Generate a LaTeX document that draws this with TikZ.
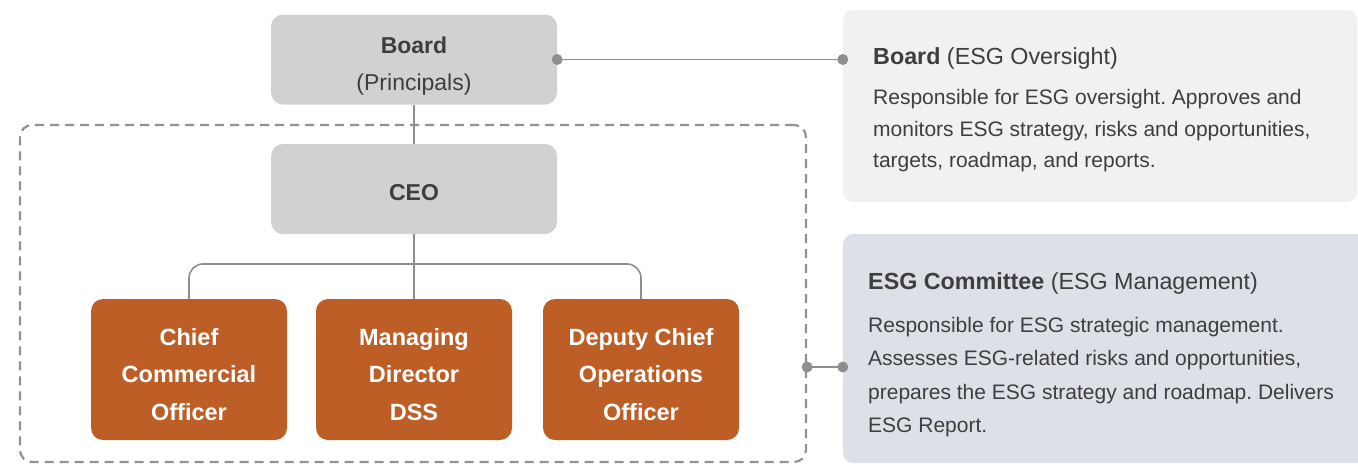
\documentclass[tikz,border=0pt]{standalone}
\usepackage{fontspec}
\setmainfont{Liberation Sans}
\definecolor{boxgray}{HTML}{D0D1D1}
\definecolor{ink}{HTML}{3E3E3E}
\definecolor{rust}{HTML}{BE5E27}
\definecolor{paneA}{HTML}{F1F1F1}
\definecolor{paneB}{HTML}{DDE0E6}
\definecolor{wire}{HTML}{8E8E8E}
\definecolor{dashgray}{HTML}{929292}
\begin{document}
\frenchspacing
\begin{tikzpicture}[x=1pt,y=-1pt,
  graybox/.style={fill=boxgray, rounded corners=12pt, minimum width=286pt,
    minimum height=90pt, inner sep=0pt},
  graytext/.style={inner sep=0pt, text=ink, align=center,
    font=\fontsize{23}{37}\selectfont},
  rolebox/.style={fill=rust, rounded corners=12pt, minimum width=196pt,
    minimum height=141pt, inner sep=0pt},
  roletext/.style={inner sep=0pt, text=white, align=center,
    font=\fontsize{23.5}{37.5}\selectfont\bfseries},
  pane/.style={rounded corners=10pt, inner sep=0pt},
  grouping/.style={draw=dashgray, line width=2.2pt, dash pattern=on 9pt off 6pt,
    rounded corners=12pt, minimum width=786pt, minimum height=337pt, inner sep=0pt},
  wireline/.style={draw=wire, line width=1.6pt},
  paneltitle/.style={anchor=west, inner sep=0pt, text=ink, font=\fontsize{23.3}{28}\selectfont},
  panelbody/.style={anchor=north west, inner sep=0pt, text=ink, align=left},
  knob/.style={fill=wire}
]
\useasboundingbox (0,0) rectangle (1358,464);

% right-hand description panels
\node[pane, fill=paneA, minimum width=514pt, minimum height=192pt] (p1) at (1100,106) {};
\node[pane, fill=paneB, minimum width=530pt, minimum height=229pt] (p2) at (1108,348.5) {};

\node[paneltitle] (p1title) at (873,58) {\textbf{Board} (ESG Oversight)};
\node[panelbody, font=\fontsize{21}{31.5}\selectfont] (p1body) at (873,89.5)
  {Responsible for ESG oversight. Approves and\\
   monitors ESG strategy, risks and opportunities,\\
   targets, roadmap, and reports.};

\node[paneltitle] (p2title) at (868,283) {\textbf{ESG Committee} (ESG Management)};
\node[panelbody, font=\fontsize{21}{33.3}\selectfont] (p2body) at (868,317)
  {Responsible for ESG strategic management.\\
   Assesses ESG-related risks and opportunities,\\
   prepares the ESG strategy and roadmap. Delivers\\
   ESG Report.};

% management group
\node[grouping] (grp) at (413,293.5) {};

% organisation chart
\node[graybox] (board) at (414,59.5) {};
\node[graytext] (board-text) at ([yshift=-7pt]board.center) {\textbf{Board}\\(Principals)};
\node[graybox] (ceo) at (414,189) {};
\node[graytext, font=\fontsize{23}{37}\selectfont\bfseries] (ceo-text) at ([yshift=-4pt]ceo.center) {CEO};

\node[rolebox] (cco) at (189,369.5) {};
\node[rolebox] (mdd) at (414,369.5) {};
\node[rolebox] (dco) at (641,369.5) {};
\node[roletext] (cco-text) at ([yshift=-5pt]cco.center) {Chief\\Commercial\\Officer};
\node[roletext] (mdd-text) at ([yshift=-5pt]mdd.center) {Managing\\Director\\DSS};
\node[roletext] (dco-text) at ([yshift=-5pt]dco.center) {Deputy Chief\\Operations\\Officer};

\coordinate (bar) at (414,264);
\draw[wireline] (board.south) -- (ceo.north);
\draw[wireline] (ceo.south) -- (mdd.north);
\draw[wireline, rounded corners=14pt] (cco.north) |- (bar) -| (dco.north);

% links to the panels
\coordinate (p1dot) at (p1.west |- board.east);
\draw[wireline] (board.east) -- (p1dot);
\fill[knob] (board.east) circle (5.5pt);
\fill[knob] (p1dot) circle (5.5pt);

\coordinate (grpdot) at (grp.east |- 0,367);
\coordinate (p2dot) at (p2.west |- 0,367);
\draw[wireline] (grpdot) -- (p2dot);
\fill[knob] (grpdot) circle (5.5pt);
\fill[knob] (p2dot) circle (5.5pt);
\end{tikzpicture}
\end{document}
